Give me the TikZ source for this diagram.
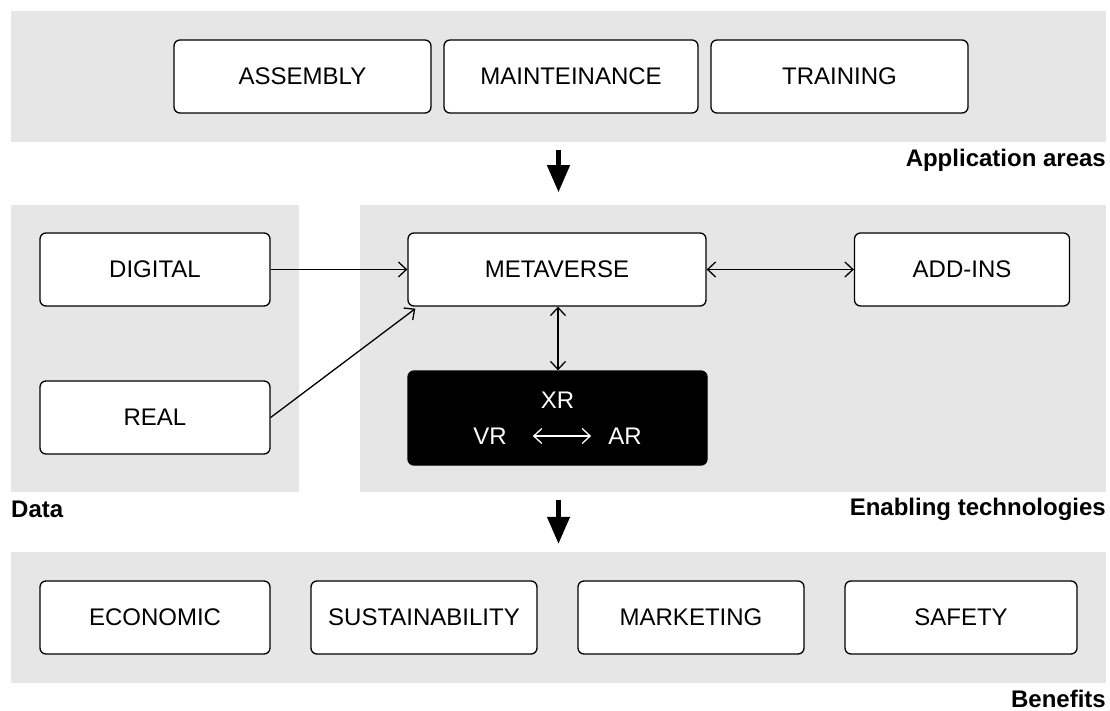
\documentclass[tikz,border=0pt]{standalone}
\usepackage{fontspec}
\setmainfont{Liberation Sans}
\usetikzlibrary{arrows.meta}
\definecolor{bandgray}{RGB}{230,230,230}
\tikzset{
  band/.style={fill=bandgray, draw=none, inner sep=0pt},
  box/.style={draw=black, line width=1.3pt, rounded corners=6pt, fill=white,
    minimum height=73pt, inner sep=0pt, font=\fontsize{24}{28}\selectfont},
  xrbox/.style={draw=black, line width=1.3pt, rounded corners=6pt, fill=black,
    minimum width=299pt, minimum height=94pt, inner sep=0pt},
  xrtext/.style={text=white, inner sep=0pt, font=\fontsize{24}{28}\selectfont},
  caption/.style={inner sep=0pt, font=\bfseries\fontsize{24}{28}\selectfont},
  conn/.style={line width=1.3pt, {Straight Barb[length=8pt,width=15pt]}-{Straight Barb[length=8pt,width=15pt]}},
  oneway/.style={line width=1.3pt, -{Straight Barb[length=8pt,width=15pt]}},
  bigarrow/.style={line width=4.5pt, -{Triangle[width=22pt,length=27pt]}},
}
\begin{document}
\begin{tikzpicture}[x=1pt,y=-1pt]
\useasboundingbox (0,0) rectangle (1110,711);
% bands
\node[band, minimum width=1095pt, minimum height=131pt] (top) at (558.5,76.5) {};
\node[band, minimum width=288pt, minimum height=287pt] (left) at (155,348.5) {};
\node[band, minimum width=746pt, minimum height=287pt] (right) at (733,348.5) {};
\node[band, minimum width=1095pt, minimum height=131pt] (bottom) at (558.5,617.5) {};
% captions
\node[caption, anchor=east] (capapp) at (1106,160) {Application areas};
\node[caption, anchor=west] (capdata) at (11,509) {Data};
\node[caption, anchor=east] (capen) at (1106,509) {Enabling technologies};
\node[caption, anchor=east] (capben) at (1106,699) {Benefits};
% top boxes
\node[box, minimum width=257pt] (assembly) at (302.5,76.5) {ASSEMBLY};
\node[box, minimum width=254pt] (maint) at (571,76.5) {MAINTEINANCE};
\node[box, minimum width=257pt] (training) at (839.5,76.5) {TRAINING};
% middle
\node[box, minimum width=230pt] (digital) at (155,269.5) {DIGITAL};
\node[box, minimum width=230pt] (real) at (155,417.5) {REAL};
\node[box, minimum width=298pt] (meta) at (557,269.5) {METAVERSE};
\node[box, minimum width=215pt] (addins) at (962,269.5) {ADD-INS};
\node[xrbox] (xr) at (557.5,418) {};
\node[xrtext] (xrl) at (557.5,400) {XR};
\node[xrtext] (vr) at (490,436) {VR};
\node[xrtext] (ar) at (625,436) {AR};
% bottom
\node[box, minimum width=230pt] (eco) at (155,617.5) {ECONOMIC};
\node[box, minimum width=226pt] (sust) at (424,617.5) {SUSTAINABILITY};
\node[box, minimum width=226pt] (mark) at (691,617.5) {MARKETING};
\node[box, minimum width=232pt] (safety) at (961,617.5) {SAFETY};
% connectors
\draw[oneway] (digital.east) -- (meta.west);
\draw[oneway] (real.east) -- ([xshift=8pt,yshift=-2pt]meta.south west);
\draw[conn] (meta.east) -- (addins.west);
\draw[conn] ([xshift=1pt]meta.south) -- ([xshift=0.5pt]xr.north);
\draw[conn, draw=white, shorten <=26pt, shorten >=17pt] (vr.east) -- (ar.west);
% big arrows
\draw[bigarrow] ([yshift=-8pt]top.south) -- ([yshift=-50pt]top.south);
\draw[bigarrow] ([yshift=52pt]bottom.north) -- ([yshift=8pt]bottom.north);
\end{tikzpicture}
\end{document}
